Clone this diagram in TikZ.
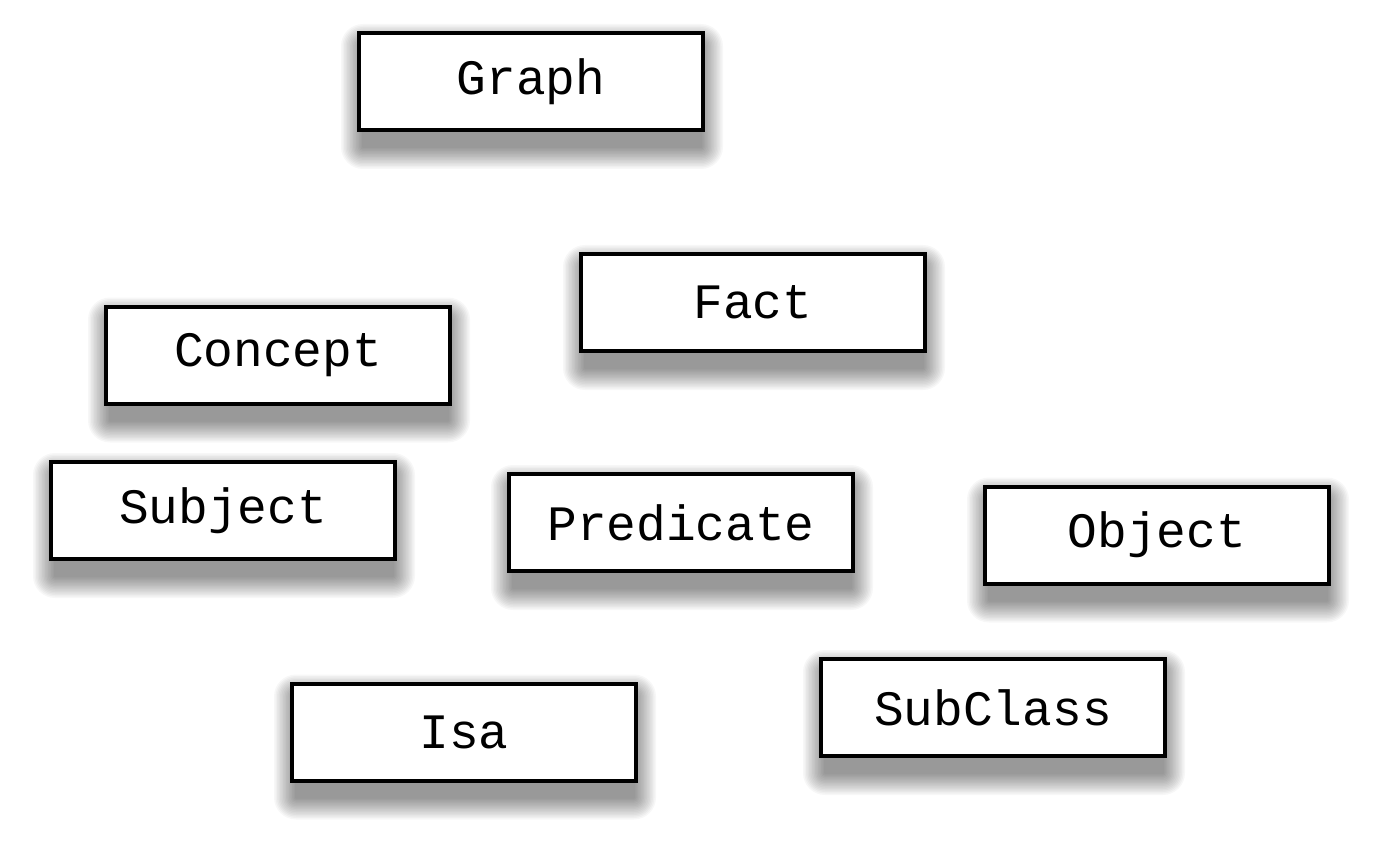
\documentclass[tikz,border=0pt]{standalone}
\usepackage{fontspec}
\setmonofont{Liberation Mono}
\pgfdeclarelayer{bg}
\pgfdeclarelayer{shadowlayer}
\pgfsetlayers{bg,shadowlayer,main}
\begin{document}
\begin{tikzpicture}[x=1pt,y=-1pt,
  box/.style={draw=black, fill=white, line width=4pt, minimum width=344pt, minimum height=97pt,
    inner sep=0pt, font=\ttfamily\fontsize{49.5}{56}\selectfont,
    execute at begin node={\lower3pt\hbox\bgroup}, execute at end node={\egroup}}]
\begin{pgfonlayer}{bg}
\fill[white] (0,0) rectangle (1379,845);
\end{pgfonlayer}
\useasboundingbox (0,0) rectangle (1379,845);
\node[box] (graph) at (531,81.5) {Graph};
\node[box] (fact) at (753,302.5) {Fact};
\node[box] (concept) at (278,355) {Concept};
\node[box] (subject) at (223,510.5) {Subject};
\node[box] (predicate) at (681,522.5) {Predicate};
\node[box] (object) at (1157,535) {Object};
\node[box] (isa) at (464,732) {Isa};
\node[box] (subclass) at (993,707.5) {SubClass};
\begin{pgfonlayer}{shadowlayer}
\foreach \n in {graph,fact,concept,subject,predicate,object,isa,subclass}{
  \foreach \r in {22,20.5,...,0}{
    \fill[black, opacity=0.03, rounded corners=\r pt]
      ([xshift=-\r pt+6pt, yshift=-15pt-\r pt]\n.south west) rectangle
      ([xshift=\r pt-4pt, yshift=-15pt+\r pt]\n.north east);
  }
}
\end{pgfonlayer}
\end{tikzpicture}
\end{document}
